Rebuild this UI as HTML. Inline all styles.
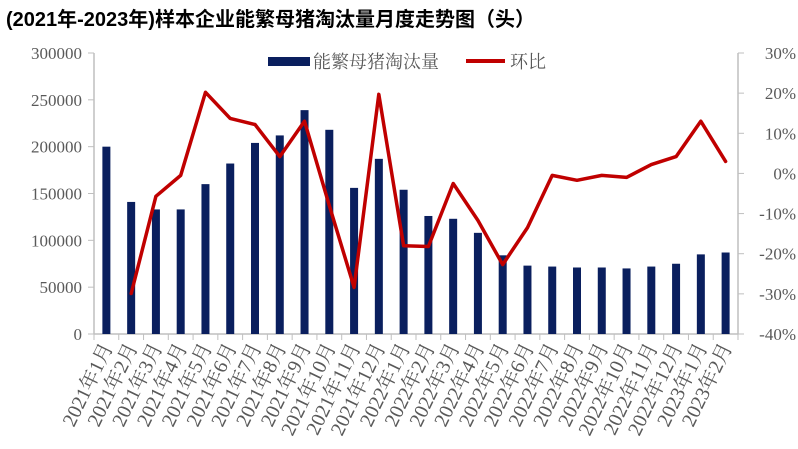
<!DOCTYPE html>
<html><head><meta charset="utf-8"><style>
body{margin:0;background:#fff;}
svg text{font-family:"Liberation Serif","Noto Serif CJK SC",serif;fill:#595959;}
</style></head><body>
<svg width="798" height="444">
<text x="6" y="26" style="font-family:'Liberation Sans','Noto Sans CJK SC',sans-serif;font-weight:bold;font-size:20px;fill:#000">(2021年-2023年)样本企业能繁母猪淘汰量月度走势图（头）</text>
<g id="legend">
<rect x="268" y="57" width="42" height="9" fill="#0a1f5e"/>
<text x="313" y="68" font-size="18">能繁母猪淘汰量</text>
<line x1="466" y1="61" x2="505" y2="61" stroke="#c00000" stroke-width="4"/>
<text x="510" y="68" font-size="18">环比</text>
</g>
<g id="axes"></g><g id="bars"></g><g id="line"></g><g id="labels"></g>
</svg>
<script>
const categories=["2021年1月","2021年2月","2021年3月","2021年4月","2021年5月","2021年6月","2021年7月","2021年8月","2021年9月","2021年10月","2021年11月","2021年12月","2022年1月","2022年2月","2022年3月","2022年4月","2022年5月","2022年6月","2022年7月","2022年8月","2022年9月","2022年10月","2022年11月","2022年12月","2023年1月","2023年2月"];
const culled=[200000,141000,133000,133000,160000,182000,204000,212000,239000,218000,156000,187000,154000,126000,123000,108000,84000,73000,72000,71000,71000,70000,72000,75000,85000,87000];
const mom=[null,-29.9,-5.7,-0.5,20.2,13.7,12.2,4.2,13,-8,-28.4,19.7,-18,-18.2,-2.5,-11.7,-22.7,-13.5,-0.5,-1.7,-0.5,-1,2.2,4.2,13,3];
const leftTicks=[0,50000,100000,150000,200000,250000,300000];
const rightTicks=[-40,-30,-20,-10,0,10,20,30];
const NS="http://www.w3.org/2000/svg";
const X0=94,X1=738,Y0=334,Y1=53;
const band=(X1-X0)/categories.length;
const xc=i=>X0+band*(i+0.5);
const yL=v=>Y0-(v/300000)*(Y0-Y1);
const yR=v=>Y0-((v+40)/70)*(Y0-Y1);
function mk(tag,attrs,parent){const e=document.createElementNS(NS,tag);for(const k in attrs)e.setAttribute(k,attrs[k]);document.getElementById(parent).appendChild(e);return e;}
let e;
e=mk("line",{x1:X0,y1:Y0,x2:X1,y2:Y0,stroke:"#bfbfbf","stroke-width":1.5},"axes");


e=mk("line",{x1:X0,y1:Y1,x2:X0,y2:Y0,stroke:"#bfbfbf","stroke-width":1.5},"axes");


e=mk("line",{x1:X1,y1:Y1,x2:X1,y2:Y0,stroke:"#bfbfbf","stroke-width":1.5},"axes");


for(let i=0;i<=categories.length;i++){e=mk("line",{x1:X0+band*i,y1:Y0,x2:X0+band*i,y2:Y0+6,stroke:"#bfbfbf","stroke-width":1},"axes");

}
leftTicks.forEach(v=>{e=mk("line",{x1:X0-6,y1:yL(v),x2:X0,y2:yL(v),stroke:"#bfbfbf"},"axes");


e=mk("text",{x:X0-12,y:yL(v)+6,"text-anchor":"end","font-size":17},"axes");e.textContent=v;

});
rightTicks.forEach(v=>{e=mk("line",{x1:X1,y1:yR(v),x2:X1+6,y2:yR(v),stroke:"#bfbfbf"},"axes");


e=mk("text",{x:796,y:yR(v)+6,"text-anchor":"end","font-size":17},"axes");e.textContent=v+"%";

});
culled.forEach((v,i)=>{e=mk("rect",{x:xc(i)-4,y:yL(v),width:8,height:Y0-yL(v),fill:"#0a1f5e"},"bars");

});
let d="";mom.forEach((v,i)=>{if(v===null)return;d+=(d?"L":"M")+xc(i).toFixed(1)+","+yR(v).toFixed(1);});
e=mk("path",{d:d,fill:"none",stroke:"#c00000","stroke-width":3.5,"stroke-linejoin":"round","stroke-linecap":"round"},"line");


categories.forEach((c,i)=>{e=mk("text",{x:0,y:0,"text-anchor":"end","font-size":20,transform:`translate(${xc(i)+7},${Y0+13}) rotate(-64)`},"labels");e.textContent=c;

});
</script>
</body></html>
